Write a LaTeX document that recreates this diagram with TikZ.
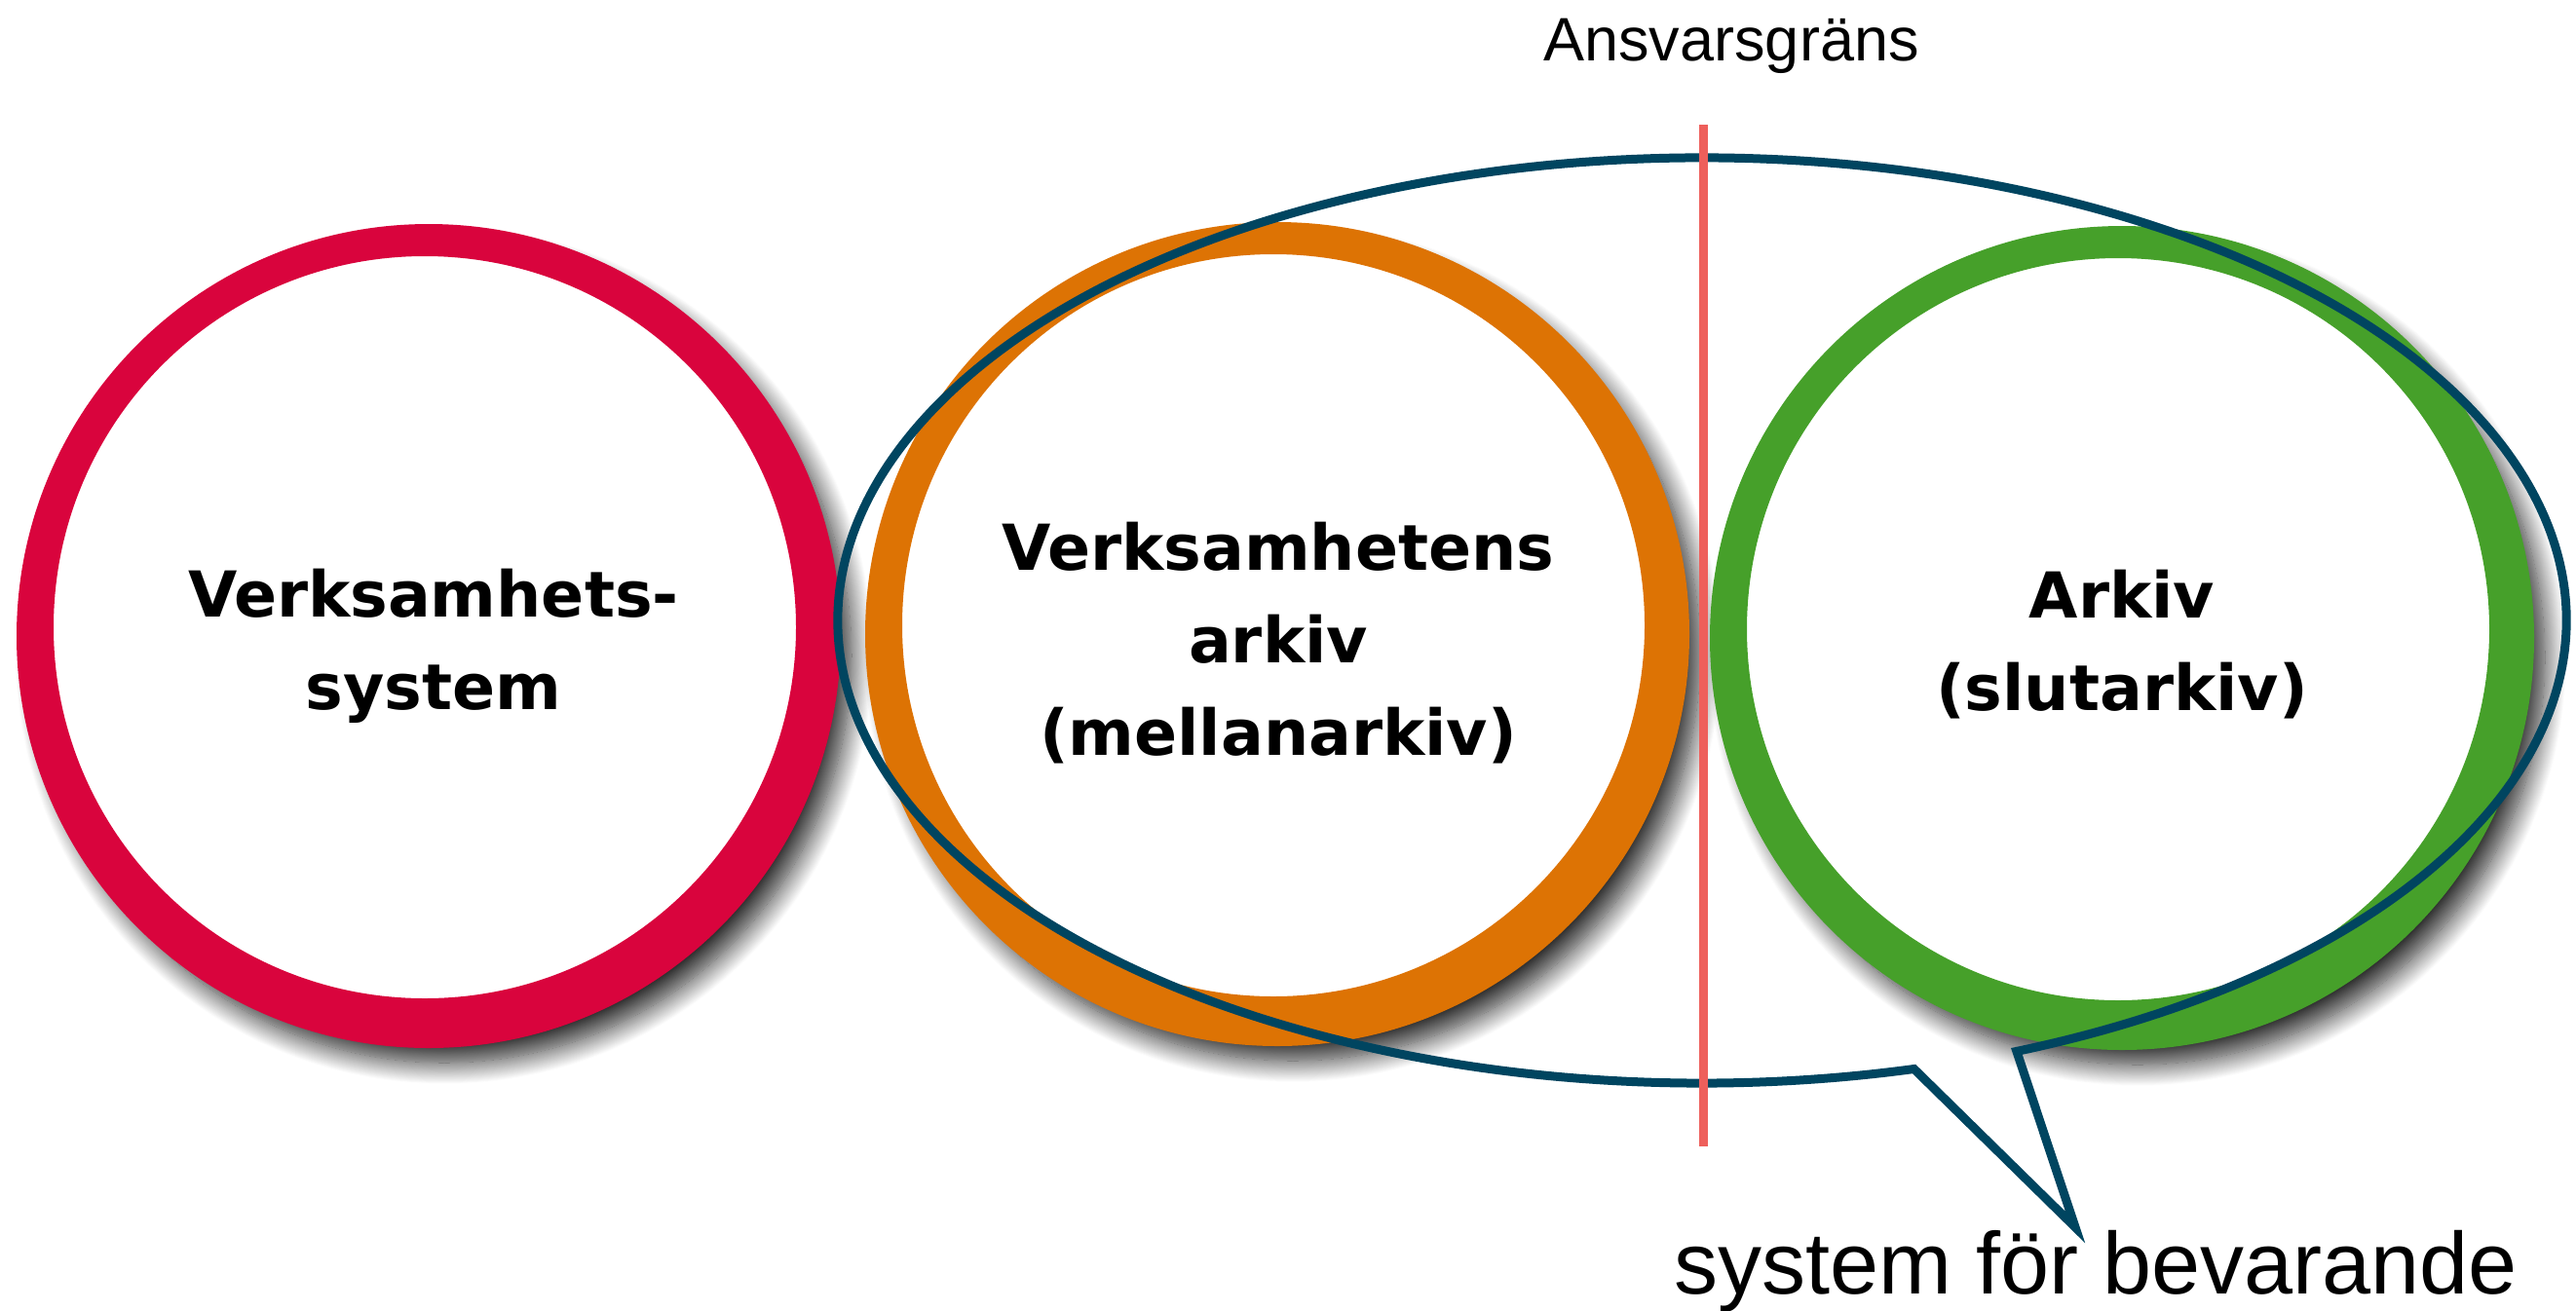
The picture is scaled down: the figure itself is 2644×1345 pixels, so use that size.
\documentclass[tikz,border=0pt]{standalone}
\usepackage{fontspec}
\setmainfont{Liberation Sans}
\newfontfamily\heavyfont{DejaVu Sans}
\usetikzlibrary{shadows.blur}

\definecolor{ringred}{RGB}{217,4,61}
\definecolor{ringorange}{RGB}{221,115,4}
\definecolor{ringgreen}{RGB}{70,160,42}
\definecolor{bubbleblue}{RGB}{0,69,96}
\definecolor{borderred}{RGB}{238,95,91}

\tikzset{every picture/.style={line width=0.75pt}}
\tikzset{
  circlabel/.style={font=\heavyfont\bfseries\fontsize{65}{95}\selectfont, align=center},
  ringbase/.style={fill=white, blur shadow={shadow xshift=16pt, shadow yshift=-20pt, shadow blur radius=22pt, shadow blur steps=24, shadow opacity=85}},
  bubble/.style={draw=bubbleblue, line width=9, line join=miter},
}

% brush ring: #1 centre, #2 colour
\newcommand{\brushring}[2]{%
  \fill[#2, even odd rule] (#1) circle [radius=423] ([shift={(-4,-9)}]#1) circle [radius=381];
}

\begin{document}
\begin{tikzpicture}[x=1pt,y=1pt,yscale=-1,xscale=1]
\useasboundingbox (0,0) rectangle (2644,1345);

%Centres
\coordinate (vsys) at (440,653);
\coordinate (markiv) at (1311,651);
\coordinate (sarkiv) at (2178,655);
\coordinate (bubc) at (1747,637);

%Shape: white discs with shadow
\foreach \c in {vsys,markiv,sarkiv}
  \fill[ringbase] (\c) circle [radius=418];

%Shape: brush rings
\brushring{vsys}{ringred}
\brushring{markiv}{ringorange}
\brushring{sarkiv}{ringgreen}

% Text Node
\node[circlabel] (vsystxt) at (445,663) {Verksamhets-\\system};
% Text Node
\node[circlabel] (marktxt) at (1312,660) {Verksamhetens\\arkiv\\(mellanarkiv)};
% Text Node
\node[circlabel] (sarktxt) at (2178,662) {Arkiv\\(slutarkiv)};

%Shape: speech bubble
\coordinate (tailtip) at (2130,1260);
\draw[bubble] ([shift={(68.65:887 and 475)}]bubc) arc [start angle=68.65, end angle=-284.2, x radius=887, y radius=475] -- (tailtip) -- cycle;

%Straight Lines: border
\coordinate (bordertop) at (1748,128);
\coordinate (borderbot) at (1748,1177);
\draw[borderred, line width=9] (bordertop) -- (borderbot);

% Text Node
\node[font=\fontsize{63}{70}\selectfont, anchor=base] (border) at (1777,62) {Ansvarsgräns};
% Text Node
\node[font=\fontsize{90}{100}\selectfont, anchor=base] (bevar) at (2151,1328) {system för bevarande};

\end{tikzpicture}
\end{document}
